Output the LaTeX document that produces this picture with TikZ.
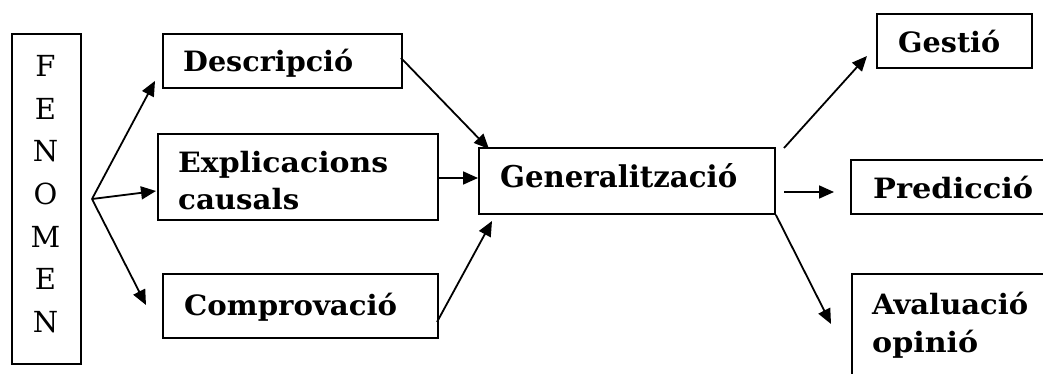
\documentclass[tikz,border=0pt]{standalone}
\usepackage{fontspec}
\setmainfont{DejaVu Serif}
\usetikzlibrary{arrows.meta}

% set a label at a given printed width, keeping its height
\newcommand\wlabel[2]{\resizebox{#1pt}{\height}{#2}}

\tikzset{
  box/.style={draw, line width=1.9pt, inner sep=0pt, anchor=north west, fill=white},
  lbl/.style={anchor=base west, inner sep=0pt, font=\fontsize{28}{33}\selectfont\bfseries},
  letter/.style={anchor=base, inner sep=0pt, font=\fontsize{29}{34}\selectfont},
  conn/.style={line width=1.8pt, -{Triangle[length=15pt,width=13pt]}}
}

\begin{document}
\begin{tikzpicture}[x=1pt, y=-1pt]
  \clip (0,0) rectangle (1043,374);
  \fill[white] (0,0) rectangle (1043,374);

  % vertical box with the letters of FENOMEN
  \node[box, minimum width=69, minimum height=330] (fen) at (11,33) {};
  \foreach \ch [count=\i from 0] in {F,E,N,O,M,E,N}
    \node[letter] at (45.5, 77+42.5*\i) {\ch};

  % middle column
  \node[box, minimum width=239, minimum height=54] (desc) at (162,33) {};
  \node[box, minimum width=280, minimum height=86] (expl) at (157,133) {};
  \node[box, minimum width=275, minimum height=64] (comp) at (162,273) {};

  \begin{scope}
    \clip (desc.north west) rectangle ([yshift=12pt]desc.south east);
    \node[lbl] at (183,72) {\wlabel{170}{Descripció}};
  \end{scope}
  \begin{scope}
    \clip (expl.north west) rectangle ([yshift=11pt]expl.south east);
    \node[lbl] at (178,173) {\wlabel{210}{Explicacions}};
    \node[lbl] at (178,209) {\wlabel{121}{causals}};
  \end{scope}
  \node[lbl] at (184,315) {\wlabel{213}{Comprovació}};

  % central box
  \node[box, minimum width=296, minimum height=66] (gen) at (478,147) {};
  \node[lbl, font=\fontsize{30}{35}\selectfont\bfseries] at (500,188) {\wlabel{237}{Generalització}};

  % right column
  \node[box, minimum width=155, minimum height=54] (gest) at (876,13) {};
  \node[lbl] at (898,53) {\wlabel{102}{Gestió}};
  \node[box, minimum width=220, minimum height=54] (pred) at (850,159) {};
  \node[lbl] at (873,198) {\wlabel{160}{Predicció}};
  \node[box, minimum width=220, minimum height=130] (aval) at (851,273) {};
  \node[lbl] at (872,314) {\wlabel{156}{Avaluació}};
  \node[lbl] at (872,352) {\wlabel{106}{opinió}};

  % connector end points
  \coordinate (fan) at (92,199);
  \coordinate (desc-in) at ([xshift=-7pt,yshift=8pt]desc.south west);
  \coordinate (expl-in) at (156,191);
  \coordinate (comp-in) at (146,305);
  \coordinate (desc-out) at (401,58);
  \coordinate (expl-out) at (437,178);
  \coordinate (comp-out) at (437,322);
  \coordinate (gen-a) at (489,149);
  \coordinate (gen-b) at (478,178);
  \coordinate (gen-c) at (492,221);
  \coordinate (gen-o1) at (784,148);
  \coordinate (gen-o2) at (784,192);
  \coordinate (gest-in) at (867,56);
  \coordinate (pred-in) at (834,192);
  \coordinate (aval-in) at (831,324);

  % connectors
  \draw[conn] (fan) -- (desc-in);
  \draw[conn] (fan) -- (expl-in);
  \draw[conn] (fan) -- (comp-in);
  \draw[conn] (desc-out) -- (gen-a);
  \draw[conn] (expl-out) -- (gen-b);
  \draw[conn] (comp-out) -- (gen-c);
  \draw[conn] (gen-o1) -- (gest-in);
  \draw[conn] (gen-o2) -- (pred-in);
  \draw[conn] (gen.south east) -- (aval-in);
\end{tikzpicture}
\end{document}
